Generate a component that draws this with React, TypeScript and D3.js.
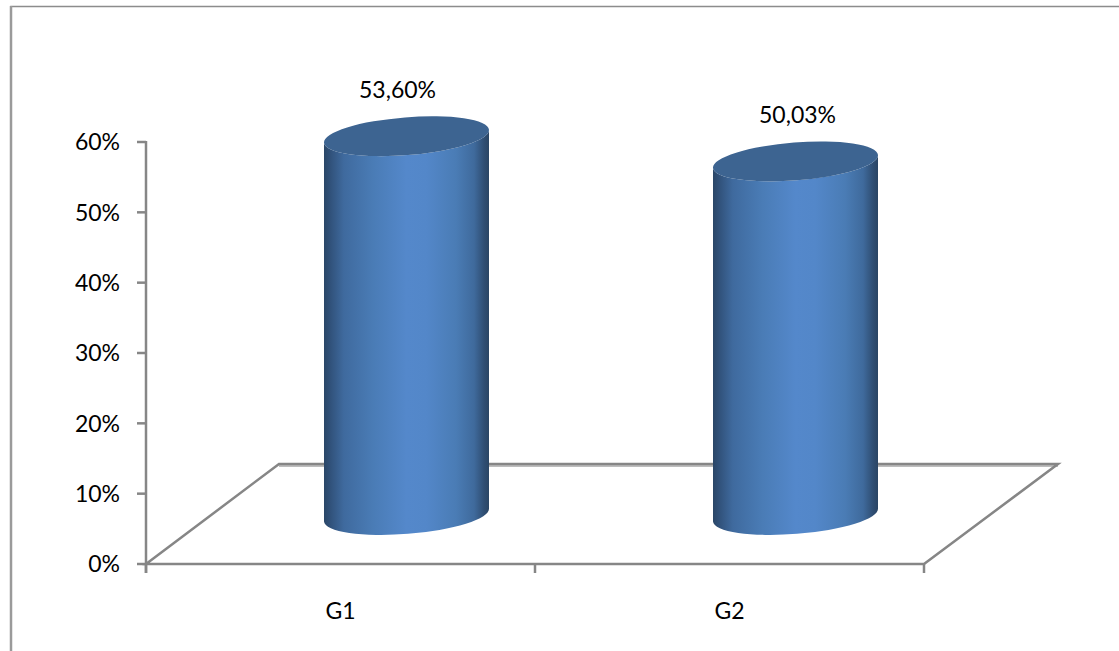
import React from "react";
import * as d3 from "d3";

const categories = ["G1", "G2"];
const values = [53.6, 50.03];
const valueLabels = ["53,60%", "50,03%"];
const yTicks = [0, 10, 20, 30, 40, 50, 60];

const W = 1119, H = 651;
const axisColor = "#868686";
const font = "Lato, 'Open Sans', sans-serif";
const fs = 23;

const y = d3.scaleLinear().domain([0, 60]).range([564, 142]);
const x = d3.scaleBand<string>().domain(categories).range([146, 924]);
// cylinders stand in the middle of the floor, so their own scale is shifted back
const yBar = d3.scaleLinear().domain([0, 60]).range([515, 91]);
const depthX = 66;
const halfW = 82.5, tilt = 6.5, rx = 82.75, ry = 18.9, rot = -4.5;
const labelDx = [-9, 2];
const labelDy = [-47, -47];

const gradStops: [number, string][] = [
  [0, "#2a4667"], [0.04, "#31527b"], [0.12, "#3f6a9e"], [0.3, "#4a7cb6"],
  [0.5, "#5488cb"], [0.62, "#5387c9"], [0.8, "#4a7cb5"], [0.91, "#3f6a9c"],
  [0.97, "#2f4e73"], [1, "#2a4564"],
];

export default function App() {
  const floor = [
    [146, 564], [279, 464], [1058, 464], [924, 564],
  ];
  const line = d3.line();
  return (
    <svg width={W} height={H} viewBox={`0 0 ${W} ${H}`}
      style={{ position: "absolute", left: 0, top: 0, background: "#fff" }}>
      <defs>
        <linearGradient id="cyl" x1="0" x2="1" y1="0" y2="0">
          {gradStops.map(([o, c]) => <stop key={o} offset={o} stopColor={c} />)}
        </linearGradient>
      </defs>

      {/* outer chart frame */}
      <path d="M1119,6.5H11V651" fill="none" stroke="#8c8c8c" strokeWidth={1.5} />
      <path d="M11,6V651" fill="none" stroke="#9a9a9a" strokeWidth={2.5} />

      {/* floor */}
      <line x1={279} x2={1058} y1={465.5} y2={465.5} stroke="#bdbdbd" strokeWidth={3} />
      <path d={(line(floor as [number, number][]) ?? "") + "Z"} fill="none" stroke={axisColor} strokeWidth={2.5} />

      {/* value axis */}
      <line x1={146} x2={146} y1={y(60) - 1} y2={y(0) + 9} stroke={axisColor} strokeWidth={2.5} />
      {yTicks.map((t) => (
        <g key={t}>
          <line x1={137} x2={146} y1={y(t)} y2={y(t)} stroke={axisColor} strokeWidth={2.5} />
          <text x={120} y={y(t)} dy="0.36em" textAnchor="end" fontFamily={font} fontSize={fs} fill="#000">
            {t}%
          </text>
        </g>
      ))}

      {/* category axis */}
      {[146, 146 + x.step(), 146 + 2 * x.step()].map((px) => (
        <line key={px} x1={px} x2={px} y1={564} y2={573} stroke={axisColor} strokeWidth={2.5} />
      ))}
      {categories.map((c) => (
        <text key={c} x={(x(c) ?? 0) + x.bandwidth() / 2} y={611} dy="0.36em" textAnchor="middle"
          fontFamily={font} fontSize={fs} fill="#000">
          {c}
        </text>
      ))}

      {/* cylinders */}
      {categories.map((c, i) => {
        const cx = (x(c) ?? 0) + x.bandwidth() / 2 + depthX;
        const top = yBar(values[i]);
        const bot = yBar(0);
        const l = cx - halfW, r = cx + halfW;
        const body =
          `M${l},${top + tilt}L${l},${bot + tilt}` +
          `A${rx},${ry} ${rot} 0 0 ${r},${bot - tilt}` +
          `L${r},${top - tilt}` +
          `A${rx},${ry} ${rot} 0 1 ${l},${top + tilt}Z`;
        return (
          <g key={c}>
            <path d={body} fill="url(#cyl)" />
            <ellipse cx={cx} cy={top} rx={rx} ry={ry} fill="#3d6491"
              transform={`rotate(${rot} ${cx} ${top})`} />
            <text x={cx + labelDx[i]} y={top + labelDy[i]} dy="0.36em" textAnchor="middle"
              fontFamily={font} fontSize={fs} fill="#000">
              {valueLabels[i]}
            </text>
          </g>
        );
      })}
    </svg>
  );
}
